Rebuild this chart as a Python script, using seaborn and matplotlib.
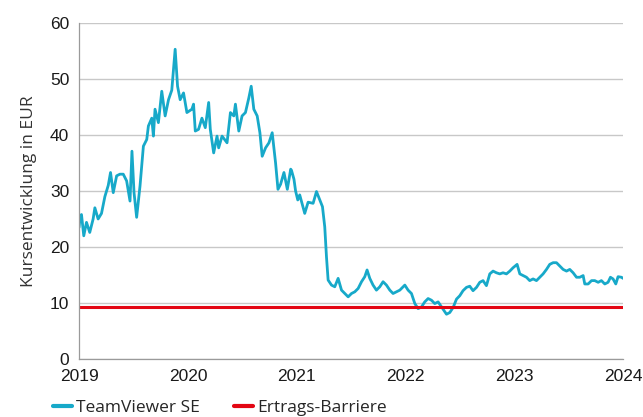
import numpy as np
import pandas as pd
import matplotlib
matplotlib.use("Agg")
import matplotlib.pyplot as plt
import seaborn as sns

# decimal year positions and closing prices (EUR)
years_2019 = [2019.000, 2019.010, 2019.022, 2019.043, 2019.068, 2019.098, 2019.129, 2019.145,
              2019.175, 2019.206, 2019.237, 2019.268, 2019.289, 2019.314, 2019.345, 2019.375,
              2019.406, 2019.437, 2019.468, 2019.486, 2019.505, 2019.529, 2019.560, 2019.591,
              2019.622, 2019.637, 2019.668, 2019.683, 2019.698, 2019.729, 2019.760, 2019.791,
              2019.822, 2019.852, 2019.883, 2019.905, 2019.929, 2019.960, 2019.991]
price_2019 = [23.5, 25.5, 25.8, 22.0, 24.4, 22.6, 25.0, 27.0,
              25.0, 26.0, 29.0, 31.0, 33.3, 29.7, 32.7, 33.0,
              33.0, 31.8, 28.2, 37.1, 29.7, 25.3, 30.9, 38.0,
              39.2, 41.6, 43.0, 39.8, 44.6, 42.2, 47.8, 43.4,
              46.3, 48.0, 55.3, 48.7, 46.3, 47.5, 44.0]

years_2020 = [2020.037, 2020.052, 2020.068, 2020.098, 2020.129, 2020.160, 2020.191, 2020.206,
              2020.237, 2020.268, 2020.283, 2020.314, 2020.360, 2020.391, 2020.422, 2020.437,
              2020.468, 2020.498, 2020.529, 2020.560, 2020.582, 2020.606, 2020.637, 2020.662,
              2020.683, 2020.714, 2020.745, 2020.775, 2020.806, 2020.828, 2020.852, 2020.883,
              2020.914, 2020.945, 2020.952, 2020.975, 2020.990]
price_2020 = [44.6, 45.5, 40.7, 41.0, 43.0, 41.3, 45.8, 41.0,
              36.8, 39.8, 37.7, 39.8, 38.6, 44.0, 43.4, 45.5,
              40.7, 43.4, 44.0, 46.6, 48.7, 44.6, 43.4, 40.4,
              36.2, 37.7, 38.6, 40.4, 35.0, 30.3, 31.2, 33.3,
              30.3, 33.9, 33.7, 32.1, 30.0]

years_2021 = [2021.010, 2021.028, 2021.074, 2021.105, 2021.151, 2021.182, 2021.212, 2021.237,
              2021.258, 2021.274, 2021.289, 2021.320, 2021.350, 2021.381, 2021.412, 2021.442,
              2021.473, 2021.504, 2021.534, 2021.565, 2021.596, 2021.626, 2021.647, 2021.672,
              2021.702, 2021.733, 2021.764, 2021.794, 2021.825, 2021.856, 2021.886, 2021.917,
              2021.948, 2021.994]
price_2021 = [28.4, 29.3, 26.0, 28.0, 27.8, 29.9, 28.4, 27.2,
              23.6, 18.2, 14.1, 13.2, 12.9, 14.4, 12.3, 11.7,
              11.1, 11.7, 12.0, 12.6, 13.8, 14.7, 15.9, 14.4,
              13.2, 12.3, 12.9, 13.8, 13.2, 12.3, 11.7, 12.0,
              12.3, 13.2]

years_2022 = [2022.024, 2022.055, 2022.086, 2022.116, 2022.147, 2022.177, 2022.208, 2022.239,
              2022.269, 2022.300, 2022.331, 2022.377, 2022.407, 2022.438, 2022.469, 2022.499,
              2022.529, 2022.561, 2022.591, 2022.621, 2022.653, 2022.683, 2022.713, 2022.744,
              2022.775, 2022.805, 2022.836, 2022.867, 2022.897, 2022.928, 2022.959, 2022.989]
price_2022 = [12.3, 11.7, 9.9, 9.0, 9.3, 10.2, 10.8, 10.5,
              9.9, 10.2, 9.3, 8.0, 8.3, 9.2, 10.7, 11.3,
              12.2, 12.8, 13.0, 12.2, 12.8, 13.7, 14.0, 13.1,
              15.2, 15.7, 15.4, 15.2, 15.4, 15.2, 15.7, 16.3]

years_2023 = [2023.026, 2023.051, 2023.081, 2023.112, 2023.142, 2023.173, 2023.204, 2023.234,
              2023.265, 2023.296, 2023.326, 2023.357, 2023.388, 2023.418, 2023.449, 2023.480,
              2023.510, 2023.541, 2023.572, 2023.602, 2023.633, 2023.648, 2023.679, 2023.710,
              2023.740, 2023.771, 2023.801, 2023.832, 2023.862, 2023.884, 2023.908, 2023.933,
              2023.954, 2023.985, 2024.000]
price_2023 = [16.9, 15.2, 14.9, 14.6, 14.0, 14.3, 14.0, 14.6,
              15.2, 16.0, 16.9, 17.2, 17.2, 16.6, 16.0, 15.7,
              16.0, 15.4, 14.6, 14.6, 14.9, 13.4, 13.4, 14.0,
              14.0, 13.7, 14.0, 13.4, 13.7, 14.6, 14.3, 13.4,
              14.7, 14.6, 14.4]

barrier = 9.3
x_ticks = [2019, 2020, 2021, 2022, 2023, 2024]
y_ticks = [0, 10, 20, 30, 40, 50, 60]

df = pd.DataFrame({
    "year": years_2019 + years_2020 + years_2021 + years_2022 + years_2023,
    "price": price_2019 + price_2020 + price_2021 + price_2022 + price_2023,
})

sns.set_style("white")
plt.rcParams["font.family"] = ["Liberation Sans", "DejaVu Sans"]

fig = plt.figure(figsize=(6.43, 4.17), dpi=100)
ax = fig.add_axes([0.123, 0.139, 0.846, 0.806])

teal = "#17A9C9"
red = "#E30613"

sns.lineplot(data=df, x="year", y="price", ax=ax, color=teal, linewidth=2.0,
             label="TeamViewer SE", legend=False)
ax.axhline(barrier, color=red, linewidth=2.2, label="Ertrags-Barriere")

ax.set_xlim(2019, 2024)
ax.set_ylim(0, 60)
ax.set_xticks(x_ticks)
ax.set_yticks(y_ticks)
ax.set_xticklabels([str(t) for t in x_ticks])
ax.yaxis.grid(True, color="#c8c8c8", linewidth=1.0)
ax.set_axisbelow(True)
for s in ["top", "right"]:
    ax.spines[s].set_visible(False)
for s in ["left", "bottom"]:
    ax.spines[s].set_color("#9a9a9a")
    ax.spines[s].set_linewidth(0.9)
ax.tick_params(axis="both", direction="out", length=4, width=0.9, color="#9a9a9a",
               labelsize=12.5, labelcolor="#1a1a1a", pad=3)
ax.set_xlabel("")
ax.set_ylabel("Kursentwicklung in EUR", family=["Open Sans", "DejaVu Sans"],
              fontsize=12.5, color="#333333", labelpad=9)

handles, labels = ax.get_legend_handles_labels()
fig.legend(handles, labels, loc="center", bbox_to_anchor=(0.342, 0.022), ncol=2,
           frameon=False, handlelength=1.1, handletextpad=0.2, columnspacing=2.0,
           prop={"family": ["Open Sans", "DejaVu Sans"], "size": 12.5})
for line in fig.legends[0].get_lines():
    line.set_linewidth(3.0)

fig.savefig("out.png", dpi=100)
